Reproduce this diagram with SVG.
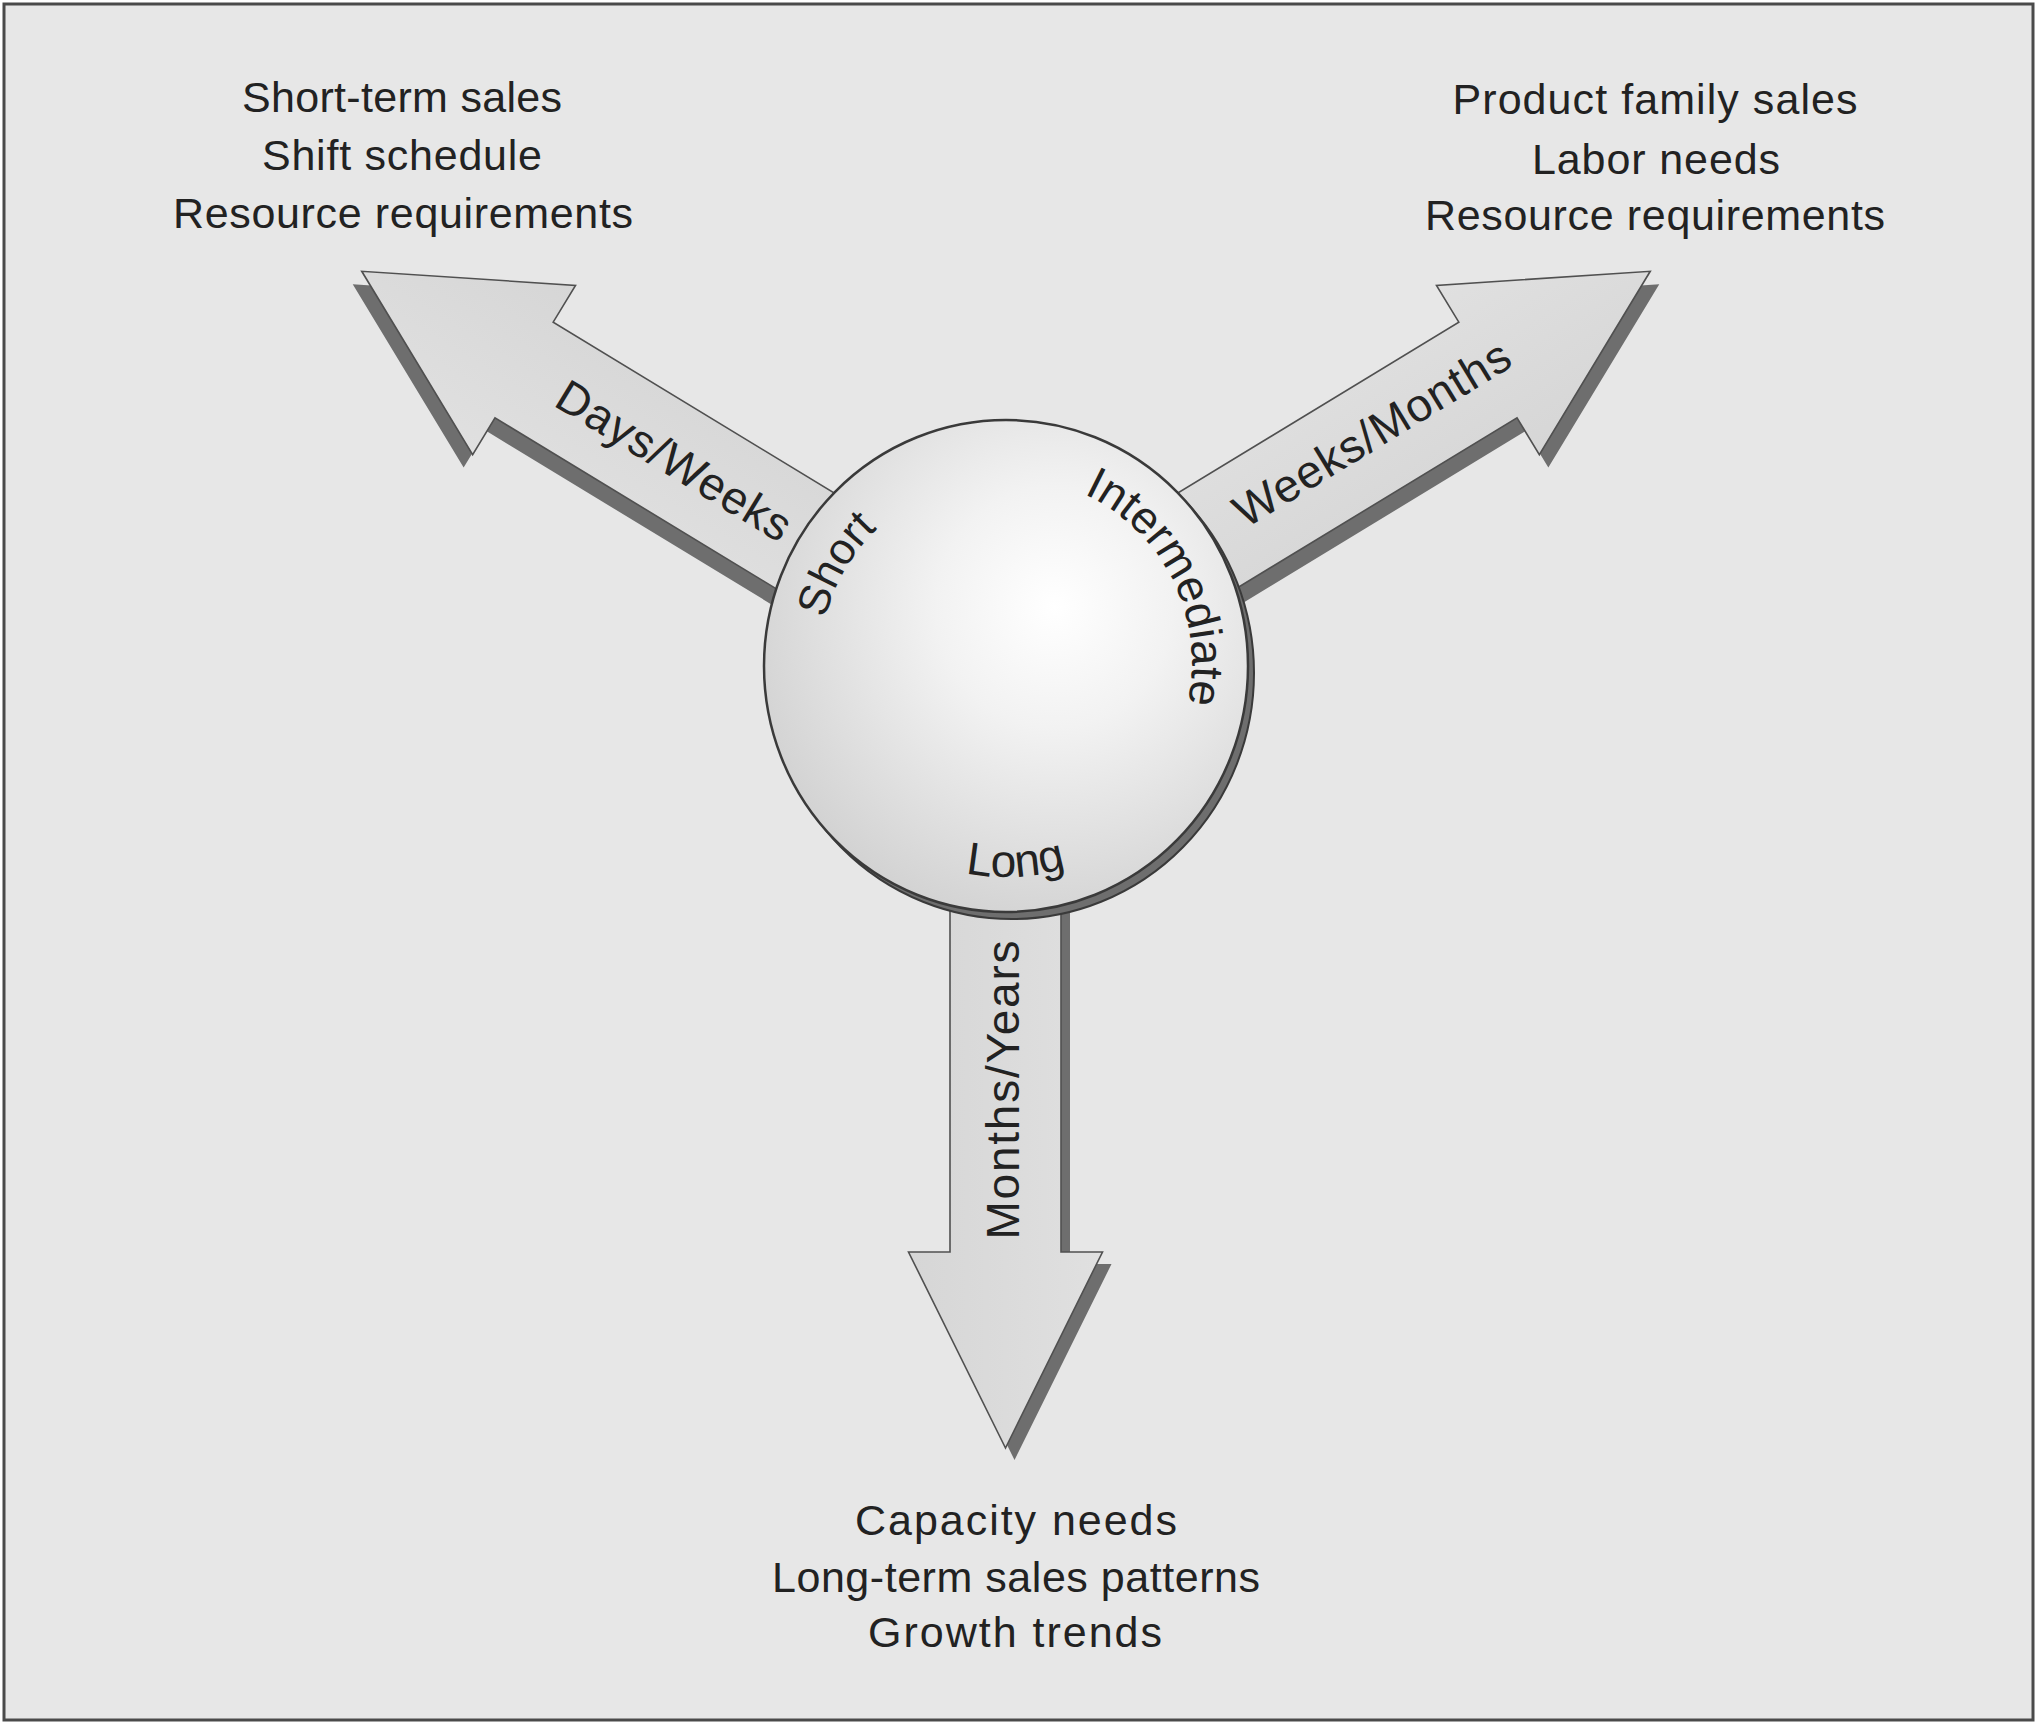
<svg xmlns="http://www.w3.org/2000/svg" xmlns:xlink="http://www.w3.org/1999/xlink" width="2036" height="1722" viewBox="0 0 2036 1722">
  <style>
    .bg { fill: #e7e7e7; stroke: #4a4a4a; stroke-width: 3; }
    .arrow { fill: url(#arrowGrad); stroke: #505050; stroke-width: 1.6; stroke-linejoin: miter; }
    .shadow { fill: #6e6e6e; stroke: none; }
    .lbl { font-family: "Liberation Sans", Arial, sans-serif; fill: #222; }
    .list { font-size: 43px; text-anchor: middle; }
    .alabel { font-size: 46px; text-anchor: middle; }
  </style>
  <defs>
    <linearGradient id="arrowGrad" x1="0" y1="0" x2="0" y2="1">
      <stop offset="0" stop-color="#e0e0e0"/>
      <stop offset="1" stop-color="#d6d6d6"/>
    </linearGradient>
    <radialGradient id="circGrad" cx="0.6" cy="0.38" r="0.7">
      <stop offset="0" stop-color="#ffffff"/>
      <stop offset="0.35" stop-color="#f2f2f2"/>
      <stop offset="1" stop-color="#cfcfcf"/>
    </radialGradient>
    <polygon id="arrowShape" points="150,-56 564,-56 564,-99 754,0 564,99 564,56 150,56"/>
    <polygon id="arrowShapeDown" points="150,-55.5 589,-55.5 589,-97 785,0 589,97 589,55.5 150,55.5"/>
    <path id="cwPath" d="M 820,663 A 186 186 0 1 1 1192,663 A 186 186 0 1 1 820,663"/>
    <path id="ccwPath" d="M 795,666 A 211 211 0 0 0 1217,666"/>
  </defs>

  <rect class="bg" x="4" y="4" width="2029" height="1716"/>

  <g id="connectors">
    <g id="arrow-short">
      <g transform="translate(-9,13)"><use xlink:href="#arrowShape" class="shadow" transform="translate(1006,663) rotate(211.3)"/></g>
      <use xlink:href="#arrowShape" class="arrow" transform="translate(1006,663) rotate(211.3)"/>
      <text class="lbl alabel" transform="translate(666,474) rotate(31.3)" textLength="266">Days/Weeks</text>
    </g>
    <g id="arrow-intermediate">
      <g transform="translate(9,13)"><use xlink:href="#arrowShape" class="shadow" transform="translate(1006,663) rotate(-31.3)"/></g>
      <use xlink:href="#arrowShape" class="arrow" transform="translate(1006,663) rotate(-31.3)"/>
      <text class="lbl alabel" transform="translate(1380,447) rotate(-31.3)" textLength="315">Weeks/Months</text>
    </g>
    <g id="arrow-long">
      <g transform="translate(9,12)"><use xlink:href="#arrowShapeDown" class="shadow" transform="translate(1005.5,663) rotate(90)"/></g>
      <use xlink:href="#arrowShapeDown" class="arrow" transform="translate(1005.5,663) rotate(90)"/>
      <text class="lbl alabel" transform="translate(1019,1090) rotate(-90)" textLength="299">Months/Years</text>
    </g>
  </g>

  <g id="hub">
    <ellipse cx="1012" cy="673" rx="242" ry="246" fill="#6e6e6e" stroke="#3a3a3a" stroke-width="2"/>
    <ellipse cx="1006" cy="666" rx="242" ry="246" fill="url(#circGrad)" stroke="#3a3a3a" stroke-width="2.5"/>
    <text class="lbl" font-size="44"><textPath xlink:href="#cwPath" startOffset="97.4" text-anchor="middle">Short</textPath></text>
    <text class="lbl" font-size="45.5"><textPath xlink:href="#cwPath" startOffset="498.6" text-anchor="middle">Intermediate</textPath></text>
    <text class="lbl" font-size="46"><textPath xlink:href="#ccwPath" startOffset="341.4" text-anchor="middle">Long</textPath></text>
  </g>

  <g id="short-term-list">
    <text class="lbl list" x="402" y="112" textLength="320">Short-term sales</text>
    <text class="lbl list" x="402" y="170" textLength="280">Shift schedule</text>
    <text class="lbl list" x="403" y="228" textLength="460">Resource requirements</text>
  </g>
  <g id="intermediate-list">
    <text class="lbl list" x="1655" y="114" textLength="405">Product family sales</text>
    <text class="lbl list" x="1656" y="174" textLength="248">Labor needs</text>
    <text class="lbl list" x="1655" y="230" textLength="460">Resource requirements</text>
  </g>
  <g id="long-term-list">
    <text class="lbl list" x="1016" y="1535" textLength="322">Capacity needs</text>
    <text class="lbl list" x="1016" y="1592" textLength="488">Long-term sales patterns</text>
    <text class="lbl list" x="1015" y="1647" textLength="294">Growth trends</text>
  </g>
</svg>
